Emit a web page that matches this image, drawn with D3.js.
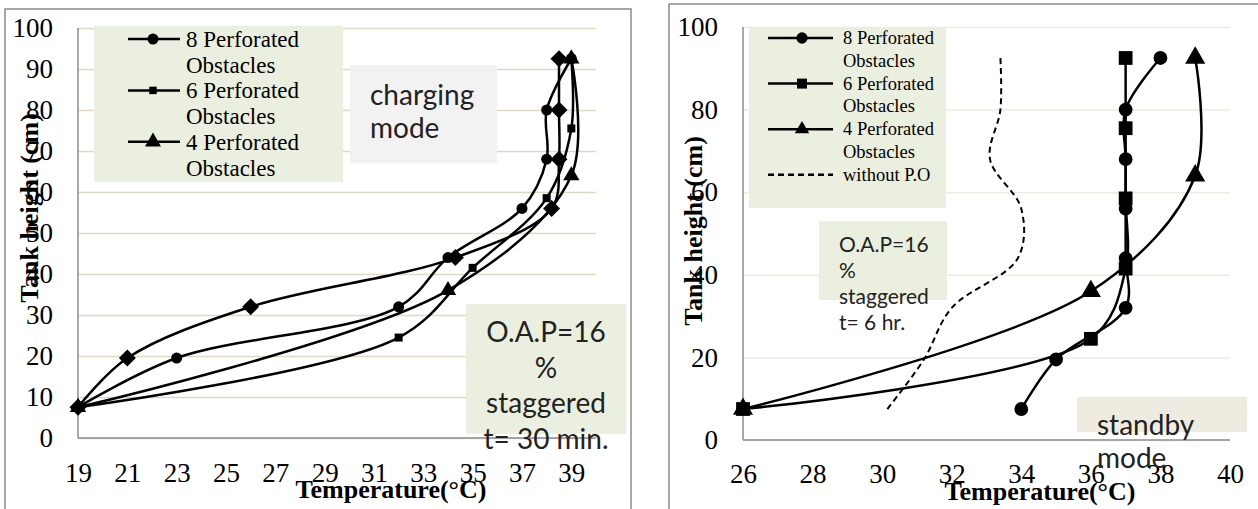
<!DOCTYPE html>
<html>
<head>
<meta charset="utf-8">
<script src="https://cdn.jsdelivr.net/npm/d3@7"></script>
<style>
    body { margin: 0; background: #fff; }
    svg { display: block; }
</style>
</head>
<body>
<svg id="chart" width="1258" height="509"></svg>
<script>
// tank heights (cm) of the measuring points
const heights8 = [7.5, 19.5, 32, 44, 56, 68, 80, 92.5];
const heights6 = [7.5, 24.5, 41.5, 58.5, 75.5, 92.5];
const heights4 = [7.5, 36, 64, 92.5];

// charging mode, t = 30 min
const chargeTemp8 = [19, 23, 32, 34, 37, 38, 38, 39];
const chargeTemp6 = [19, 32, 35, 38, 39, 39];
const chargeTemp4 = [19, 34, 39, 39];
const chargeTempNone = [19, 21, 26, 34.3, 38.2, 38.5, 38.5, 38.5];

// standby mode, t = 6 hr
const standbyTemp8 = [34, 35, 37, 37, 37, 37, 37, 38];
const standbyTemp6 = [26, 36, 37, 37, 37, 37];
const standbyTemp4 = [26, 36, 39, 39];
const standbyTempNone = [30.15, 31.2, 32.0, 33.9, 34.0, 33.1, 33.4, 33.4];

const leftXTicks = [19, 21, 23, 25, 27, 29, 31, 33, 35, 37, 39];
const leftYTicks = [0, 10, 20, 30, 40, 50, 60, 70, 80, 90, 100];
const rightXTicks = [26, 28, 30, 32, 34, 36, 38, 40];
const rightYTicks = [0, 20, 40, 60, 80, 100];

const legendNames = ["8 Perforated", "6 Perforated", "4 Perforated"];

const svg = d3.select("#chart");
const serif = '"Liberation Serif", "Times New Roman", serif';
const sans = 'Lato, "Open Sans", sans-serif';

function zip(ts, hs) {
    return ts.map((t, i) => ({t: t, h: hs[i]}));
}

function symbolPath(kind, size) {
    const types = {circle: d3.symbolCircle, square: d3.symbolSquare, triangle: d3.symbolTriangle, diamond: d3.symbolSquare};
    return d3.symbol().type(types[kind]).size(size)();
}

function styleTicks(sel) {
    sel.attr("font-family", null).attr("font-size", null);
    sel.selectAll(".tick text")
        .style("font-family", serif)
        .style("font-size", "27px")
        .attr("fill", "#000");
}

function drawPanel(cfg) {
    const g = svg.append("g");
    const x = d3.scaleLinear().domain(cfg.xDomain).range(cfg.xRange);
    const y = d3.scaleLinear().domain([0, 100]).range(cfg.yRange);

    // outer frame
    g.append("rect")
        .attr("x", cfg.frame[0]).attr("y", cfg.frame[1])
        .attr("width", cfg.frame[2]).attr("height", cfg.frame[3])
        .attr("fill", "#fff").attr("stroke", "#8c8c8c").attr("stroke-width", 1.5);

    // gridlines + y labels
    const yAxis = g.append("g")
        .attr("transform", "translate(" + cfg.xRange[0] + ",0)")
        .call(d3.axisLeft(y).tickValues(cfg.yTicks).tickSize(-(cfg.xRange[1] - cfg.xRange[0])).tickPadding(25));
    yAxis.select(".domain").remove();
    yAxis.selectAll(".tick line").attr("stroke", cfg.gridColor).attr("stroke-width", 1.5);
    styleTicks(yAxis);

    const xAxis = g.append("g")
        .attr("transform", "translate(0," + cfg.yRange[0] + ")")
        .call(d3.axisBottom(x).tickValues(cfg.xTicks).tickSize(0).tickPadding(cfg.xPad));
    xAxis.select(".domain").remove();
    styleTicks(xAxis);

    // axis lines
    g.append("line")
        .attr("x1", cfg.xRange[0]).attr("x2", cfg.xRange[0])
        .attr("y1", cfg.yRange[0]).attr("y2", cfg.yRange[1])
        .attr("stroke", "#8c8c8c").attr("stroke-width", 1.5);
    g.append("line")
        .attr("x1", cfg.xRange[0]).attr("x2", cfg.xRange[1])
        .attr("y1", cfg.yRange[0]).attr("y2", cfg.yRange[0])
        .attr("stroke", "#8c8c8c").attr("stroke-width", 1.5);

    const line = d3.line()
        .x(d => x(d.t))
        .y(d => y(d.h))
        .curve(d3.curveCatmullRom.alpha(0.5));

    cfg.series.forEach(s => {
        const pts = zip(s.temps, s.heights);
        g.append("path")
            .datum(pts)
            .attr("fill", "none")
            .attr("stroke", "#000")
            .attr("stroke-width", s.dashed ? 2 : 2.5)
            .attr("stroke-dasharray", s.dashed ? "6,4" : null)
            .attr("d", line);
        if (s.marker) {
            g.selectAll(null)
                .data(pts)
                .enter().append("path")
                .attr("d", symbolPath(s.marker, s.size))
                .attr("transform", d => "translate(" + x(d.t) + "," + y(d.h) + ")" + (s.marker === "diamond" ? " rotate(45)" : ""))
                .attr("fill", "#000");
        }
    });

    // axis titles
    g.append("text")
        .attr("x", cfg.xTitle[0]).attr("y", cfg.xTitle[1])
        .attr("text-anchor", "middle")
        .style("font-family", serif).style("font-weight", "bold").style("font-size", "26px")
        .text("Temperature(°C)");
    g.append("text")
        .attr("transform", "translate(" + cfg.yTitle[0] + "," + cfg.yTitle[1] + ") rotate(-90)")
        .attr("text-anchor", "middle")
        .style("font-family", serif).style("font-weight", "bold").style("font-size", "26px")
        .text("Tank height (cm)");

    // legend
    const lg = cfg.legend;
    g.append("rect")
        .attr("x", lg.box[0]).attr("y", lg.box[1]).attr("width", lg.box[2]).attr("height", lg.box[3])
        .attr("fill", "#ebefdf");
    lg.items.forEach((it, i) => {
        const by = lg.y0 + i * 2 * lg.step;
        const my = by - lg.lift;
        g.append("line")
            .attr("x1", lg.lineX[0]).attr("x2", lg.lineX[1])
            .attr("y1", my).attr("y2", my)
            .attr("stroke", "#000").attr("stroke-width", 2.5)
            .attr("stroke-dasharray", it.dashed ? "6,4" : null);
        if (it.marker) {
            g.append("path")
                .attr("d", symbolPath(it.marker, it.size))
                .attr("transform", "translate(" + lg.markX + "," + my + ")")
                .attr("fill", "#000");
        }
        const t = g.append("text")
            .attr("x", lg.textX).attr("y", by)
            .style("font-family", serif).style("font-size", lg.font + "px");
        t.append("tspan").text(it.name);
        if (it.second) {
            t.append("tspan").attr("x", lg.textX).attr("dy", lg.step).text(it.second);
        }
    });

    // notes
    cfg.notes.forEach(n => {
        if (n.box) {
            g.append("rect")
                .attr("x", n.box[0]).attr("y", n.box[1]).attr("width", n.box[2]).attr("height", n.box[3])
                .attr("fill", n.fill);
        }
        const t = g.append("text")
            .attr("text-anchor", n.anchor)
            .style("font-family", sans).style("font-size", n.font + "px").attr("fill", "#222");
        n.lines.forEach((ln, i) => {
            t.append("tspan").attr("x", n.x).attr("y", n.y0 + i * n.step).text(ln);
        });
    });
}

drawPanel({
    frame: [5, 9, 626, 520],
    xDomain: [19, 40], xRange: [78, 596],
    yRange: [438, 28],
    xTicks: leftXTicks, yTicks: leftYTicks, xPad: 25,
    gridColor: "#ddd9c3",
    series: [
        {temps: chargeTemp8, heights: heights8, marker: "circle", size: 95},
        {temps: chargeTemp6, heights: heights6, marker: "square", size: 64},
        {temps: chargeTemp4, heights: heights4, marker: "triangle", size: 115},
        {temps: chargeTempNone, heights: heights8, marker: "diamond", size: 144}
    ],
    xTitle: [391, 498], yTitle: [38, 208],
    legend: {
        box: [94, 26, 249, 156], y0: 47, step: 25.7, lift: 8, font: 23,
        lineX: [128, 180], markX: 153, textX: 186,
        items: [
            {name: legendNames[0], second: "Obstacles", marker: "circle", size: 95},
            {name: legendNames[1], second: "Obstacles", marker: "square", size: 56},
            {name: legendNames[2], second: "Obstacles", marker: "triangle", size: 110}
        ]
    },
    notes: [
        {box: [350, 65, 147, 98], fill: "#f2f2f2", lines: ["charging", "mode"], x: 370, y0: 105, step: 33, font: 28, anchor: "start"},
        {box: [466, 304, 160, 130], fill: "#ebefdf", lines: ["O.A.P=16", "%", "staggered", "t= 30 min."], x: 546, y0: 342, step: 35.7, font: 28, anchor: "middle"}
    ]
});

drawPanel({
    frame: [669, 4, 620, 530],
    xDomain: [26, 40], xRange: [743, 1230],
    yRange: [440, 27],
    xTicks: rightXTicks, yTicks: rightYTicks, xPad: 24,
    gridColor: "#eeece1",
    series: [
        {temps: standbyTemp8, heights: heights8, marker: "circle", size: 150},
        {temps: standbyTemp6, heights: heights6, marker: "square", size: 190},
        {temps: standbyTemp4, heights: heights4, marker: "triangle", size: 175},
        {temps: standbyTempNone, heights: heights8, dashed: true}
    ],
    xTitle: [1040, 500], yTitle: [702, 231],
    legend: {
        box: [749, 27, 197, 181], y0: 44, step: 22.8, lift: 6, font: 18.5,
        lineX: [768, 833], markX: 802, textX: 843,
        items: [
            {name: legendNames[0], second: "Obstacles", marker: "circle", size: 100},
            {name: legendNames[1], second: "Obstacles", marker: "square", size: 100},
            {name: legendNames[2], second: "Obstacles", marker: "triangle", size: 90},
            {name: "without P.O", dashed: true}
        ]
    },
    notes: [
        {box: [819, 221, 128, 79], fill: "#ebefdf", lines: ["O.A.P=16", "%", "staggered", "t= 6 hr."], x: 839, y0: 252, step: 26, font: 21, anchor: "start"},
        {box: [1077, 397, 170, 35], fill: "#eeece1", lines: ["standby", "mode"], x: 1097, y0: 435, step: 33, font: 28, anchor: "start"}
    ]
});
</script>
</body>
</html>
